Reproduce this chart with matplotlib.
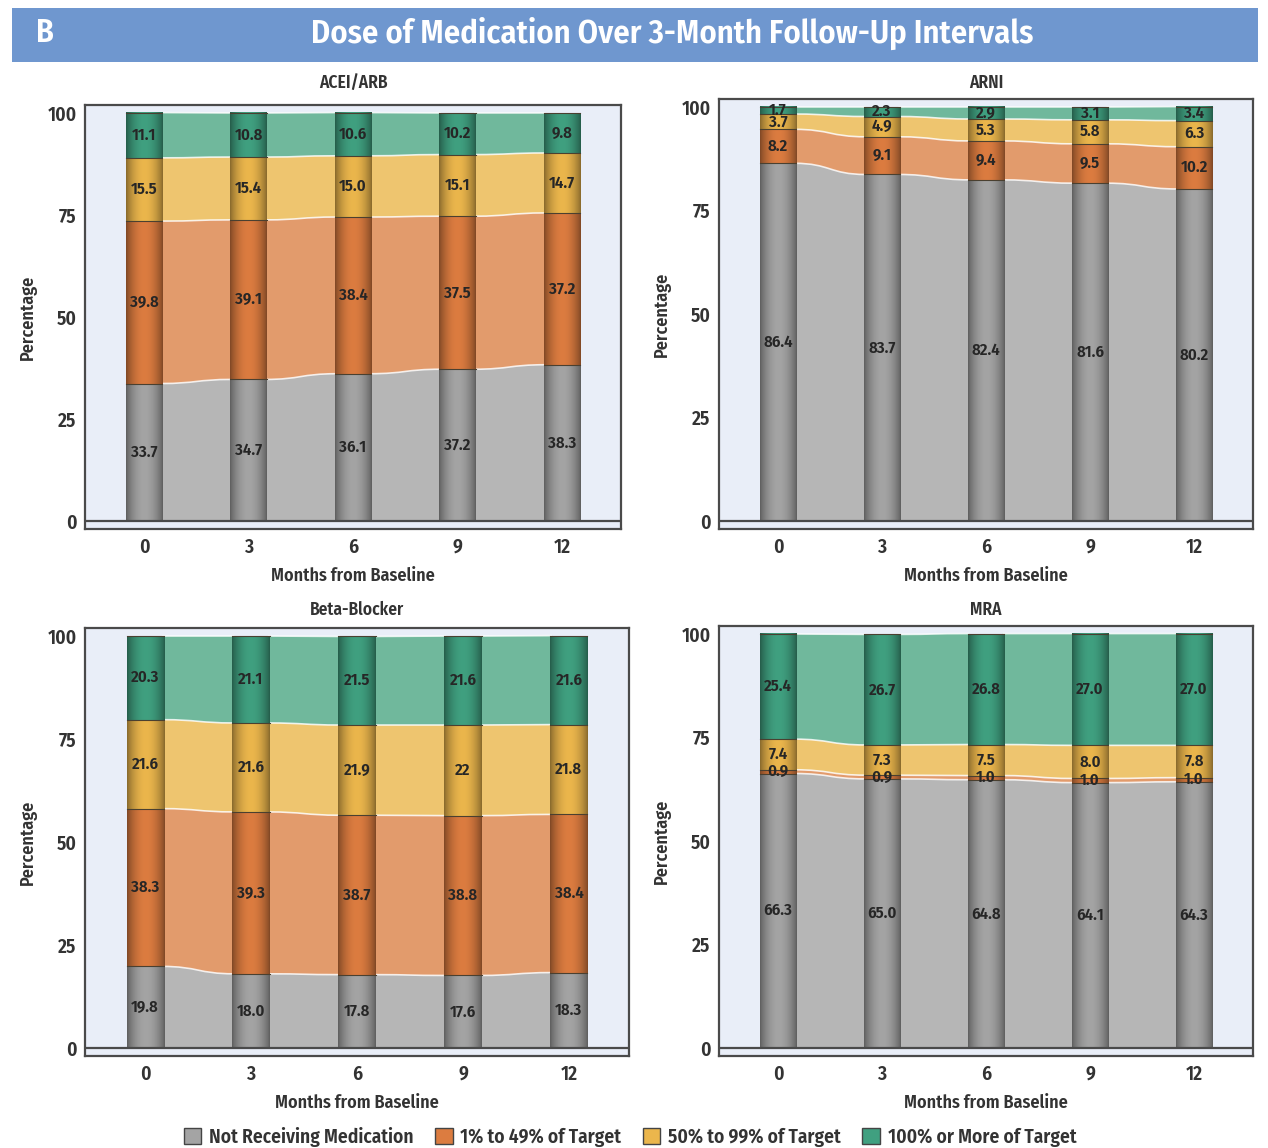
import numpy as np
import matplotlib.pyplot as plt
from matplotlib.path import Path
from matplotlib.patches import PathPatch, Patch, Rectangle

plt.rcParams['font.family'] = ['Fira Sans Condensed', 'DejaVu Sans']

W, H = 1268, 1148

months = [0, 3, 6, 9, 12]
levels = ["Not Receiving Medication", "1% to 49% of Target",
          "50% to 99% of Target", "100% or More of Target"]

# stacked shares (%) per follow-up visit, bottom to top
acei_none = [33.7, 34.7, 36.1, 37.2, 38.3]
acei_low = [39.8, 39.1, 38.4, 37.5, 37.2]
acei_mid = [15.5, 15.4, 15.0, 15.1, 14.7]
acei_full = [11.1, 10.8, 10.6, 10.2, 9.8]

arni_none = [86.4, 83.7, 82.4, 81.6, 80.2]
arni_low = [8.2, 9.1, 9.4, 9.5, 10.2]
arni_mid = [3.7, 4.9, 5.3, 5.8, 6.3]
arni_full = [1.7, 2.3, 2.9, 3.1, 3.4]

bb_none = [19.8, 18.0, 17.8, 17.6, 18.3]
bb_low = [38.3, 39.3, 38.7, 38.8, 38.4]
bb_mid = [21.6, 21.6, 21.9, 22, 21.8]
bb_full = [20.3, 21.1, 21.5, 21.6, 21.6]

mra_none = [66.3, 65.0, 64.8, 64.1, 64.3]
mra_low = [0.9, 0.9, 1.0, 1.0, 1.0]
mra_mid = [7.4, 7.3, 7.5, 8.0, 7.8]
mra_full = [25.4, 26.7, 26.8, 27.0, 27.0]

bar_colors = ['#a4a4a4', '#dc7c40', '#ebb64c', '#40a080']
flow_colors = ['#b6b6b6', '#e29b6c', '#eec56f', '#70b89c']
frame_col = '#4a4a4a'
text_col = '#333333'
bg_col = '#e9eef8'
bar_w = 1.05


def fmt(v):
    return str(v) if isinstance(v, int) else f"{v:.1f}"


def shaded(color, n=64):
    rgb = np.array(plt.matplotlib.colors.to_rgb(color))
    t = np.linspace(0, 1, n)
    k = 0.58 + 0.42 * np.sin(np.pi * t) ** 0.8
    img = np.clip(rgb[None, :] * k[:, None], 0, 1)
    return img[None, :, :]


def flow(ax, x0, a0, a1, x1, b0, b1, color):
    xm = (x0 + x1) / 2
    top = Path([(x0, a1), (xm, a1), (xm, b1), (x1, b1)],
               [Path.MOVETO, Path.CURVE4, Path.CURVE4, Path.CURVE4])
    verts = [(x0, a1), (xm, a1), (xm, b1), (x1, b1),
             (x1, b0), (xm, b0), (xm, a0), (x0, a0), (x0, a1)]
    codes = [Path.MOVETO, Path.CURVE4, Path.CURVE4, Path.CURVE4,
             Path.LINETO, Path.CURVE4, Path.CURVE4, Path.CURVE4, Path.CLOSEPOLY]
    ax.add_patch(PathPatch(Path(verts, codes), facecolor=color,
                           edgecolor='none', zorder=1))
    ax.add_patch(PathPatch(top, facecolor='none', edgecolor='white',
                           lw=1.2, alpha=0.8, zorder=1.5))


def panel(ax, title, series, title_y):
    data = np.array(series, dtype=float)
    tops = np.cumsum(data, axis=0)
    bots = tops - data
    ax.set_facecolor(bg_col)

    for i in range(len(months) - 1):
        xa = months[i] + bar_w / 2 - 0.05
        xb = months[i + 1] - bar_w / 2 + 0.05
        for c in range(len(levels)):
            flow(ax, xa, bots[c, i], tops[c, i], xb, bots[c, i + 1],
                 tops[c, i + 1], flow_colors[c])

    for i, m in enumerate(months):
        for c in range(len(levels)):
            ax.imshow(shaded(bar_colors[c]), extent=(m - bar_w / 2, m + bar_w / 2,
                      bots[c, i], tops[c, i]), aspect='auto',
                      interpolation='bilinear', zorder=2)
            ax.plot([m - bar_w / 2, m + bar_w / 2], [tops[c, i]] * 2,
                    color='#4a4030', lw=0.8, zorder=3)
            ax.text(m, (bots[c, i] + tops[c, i]) / 2, fmt(series[c][i]),
                    ha='center', va='center', fontsize=12, color='#262626',
                    fontweight='semibold', zorder=4)

    ax.axhline(0, color=frame_col, lw=1.6, zorder=5)
    ax.set_xlim(-1.7, 13.7)
    ax.set_ylim(-2, 102)
    ax.set_xticks(months)
    ax.set_yticks([0, 25, 50, 75, 100])
    ax.tick_params(length=0, labelsize=14, colors=text_col, pad=6)
    for lab in ax.get_xticklabels() + ax.get_yticklabels():
        lab.set_fontweight('semibold')
    for s in ax.spines.values():
        s.set_color(frame_col)
        s.set_linewidth(1.6)
    box = ax.get_position()
    ax.figure.text((box.x0 + box.x1) / 2, 1 - title_y / H, title, fontsize=12.5,
                   fontweight='semibold', color=text_col, ha='center', va='center')
    ax.set_xlabel('Months from Baseline', fontsize=13, fontweight='semibold',
                  color=text_col, labelpad=7)
    ax.set_ylabel('Percentage', fontsize=13, fontweight='semibold',
                  color=text_col, labelpad=8)


def px_box(left, right, top, bottom):
    return [left / W, 1 - bottom / H, (right - left) / W, (bottom - top) / H]


fig = plt.figure(figsize=(W / 100, H / 100), dpi=100)

# blue header band
fig.patches.append(Rectangle((12 / W, 1 - 62 / H), 1246 / W, 54 / H,
                             transform=fig.transFigure, facecolor='#6f97cf',
                             edgecolor='none'))
fig.text(36 / W, 1 - 33 / H, 'B', color='white', fontsize=23,
         fontweight='semibold', va='center')
fig.text(672 / W, 1 - 33 / H, 'Dose of Medication Over 3-Month Follow-Up Intervals',
         color='white', fontsize=23.5, fontweight='semibold', ha='center', va='center')

ax1 = fig.add_axes(px_box(85, 621, 104.8, 529.2))
ax2 = fig.add_axes(px_box(719, 1253, 98.7, 529.3))
ax3 = fig.add_axes(px_box(85, 629, 627.8, 1056.2))
ax4 = fig.add_axes(px_box(719, 1253, 625.7, 1056.3))

panel(ax1, 'ACEI/ARB', [acei_none, acei_low, acei_mid, acei_full], 83)
panel(ax2, 'ARNI', [arni_none, arni_low, arni_mid, arni_full], 83)
panel(ax3, 'Beta-Blocker', [bb_none, bb_low, bb_mid, bb_full], 610)
panel(ax4, 'MRA', [mra_none, mra_low, mra_mid, mra_full], 610)

handles = [Patch(facecolor=c, edgecolor='#444444', lw=1) for c in bar_colors]
leg = fig.legend(handles, levels, loc='center', bbox_to_anchor=(630 / W, 1 - 1137 / H),
                 ncol=4, frameon=False, handlelength=0.9, handleheight=0.9,
                 handletextpad=0.4, columnspacing=1.1, fontsize=14)
for t in leg.get_texts():
    t.set_fontweight('semibold')
    t.set_color(text_col)

fig.savefig('out.png', dpi=100)
